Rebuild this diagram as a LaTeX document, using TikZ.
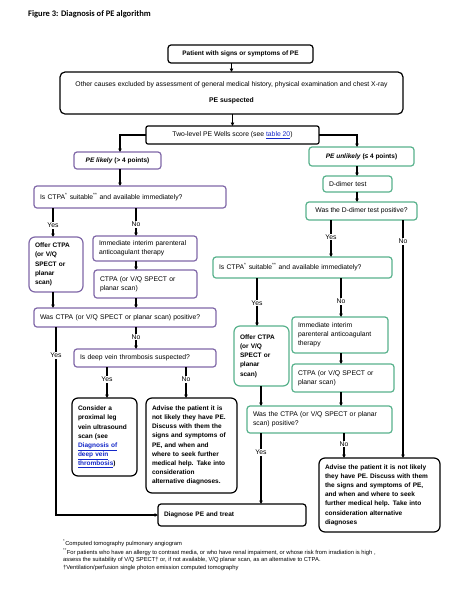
\documentclass[tikz,border=0pt]{standalone}
\usepackage{fontspec}
\setmainfont{Liberation Sans}
\newfontfamily\titlefont{Carlito}
\usetikzlibrary{arrows.meta}
\definecolor{purp}{RGB}{128,104,168}
\definecolor{gren}{RGB}{88,178,140}
\definecolor{lnkc}{RGB}{20,40,200}
\newcommand{\lnk}[1]{\textcolor{lnkc}{\underline{#1}}}
\newcommand{\fr}{\fontsize{6.8}{9.2}\selectfont}
\newcommand{\fb}{\fontsize{6.5}{9.2}\selectfont\bfseries}
\newcommand{\bx}[7]{%
  \pgfmathsetmacro{\bw}{#5-#3}%
  \pgfmathsetmacro{\bh}{#6-#4}%
  \pgfmathsetmacro{\tw}{#5-#3-12}%
  \node[box,#2,anchor=north west,minimum width=\bw pt,minimum height=\bh pt] (#1) at (#3,#4) {#7};}
\begin{document}
\begin{tikzpicture}[x=1pt,y=-1pt,
  box/.style={draw, line width=1.2pt, rounded corners=3pt, inner ysep=1pt, inner xsep=4pt, outer sep=0pt, font=\fr},
  blk/.style={draw=black},
  pur/.style={draw=purp},
  grn/.style={draw=gren},
  rr/.style={rounded corners=6pt},
  lft/.style={align=left, text width=\tw pt, inner xsep=6pt},
  ctr/.style={align=center},
  bld/.style={font=\fb},
  arr/.style={line width=1.1pt, -{Triangle[length=3.5pt,width=3.4pt]}},
  lbl/.style={fill=white, inner sep=1pt, font=\fr},
  fn/.style={anchor=west, inner sep=0pt, font=\fontsize{5.8}{7}\selectfont}]
\fill[white] (0,0) rectangle (474,595);
\useasboundingbox (0,0) rectangle (474,595);
\node[anchor=west, inner sep=0pt, font=\titlefont\fontsize{8.5}{10}\selectfont\bfseries] (title) at (28,14) {Figure 3: Diagnosis of PE algorithm};
% boxes
\bx{p1}{blk,ctr,bld}{168}{45}{313}{63}{Patient with signs or symptoms of PE}
\bx{p2}{blk,ctr,rounded corners=5pt}{60}{72}{403}{114}{Other causes excluded by assessment of general medical history, physical examination and chest X-ray\\[6.8pt]\textbf{PE suspected}}
\bx{wells}{blk,ctr,rounded corners=2pt}{146}{126}{319}{144}{Two-level PE Wells score (see \lnk{table 20})}
\bx{lik}{pur,ctr,bld}{74}{152}{161}{169}{\textit{PE likely} (> 4 points)}
\bx{unl}{grn,ctr,bld}{309}{147}{414}{166}{\textit{PE unlikely} (≤ 4 points)}
\bx{ddim}{grn,lft}{323}{176}{392}{192}{D-dimer test}
\bx{wdd}{grn,ctr}{306}{202}{417}{220}{Was the D-dimer test positive?}
\bx{ctL}{pur,lft}{34}{186}{226}{208}{Is CTPA\textsuperscript{*} suitable\textsuperscript{**} and available immediately?}
\bx{offL}{pur,lft,bld,rr}{29}{237}{83}{292}{Offer CTPA\\(or V/Q\\SPECT or\\planar\\scan)}
\bx{immL}{pur,lft}{93}{236}{197}{261}{Immediate interim parenteral\\anticoagulant therapy}
\bx{ctpaL}{pur,lft}{94}{270}{197}{298}{CTPA (or V/Q SPECT or\\planar scan)}
\bx{wasL}{pur,lft}{34}{308}{216}{327}{Was CTPA (or V/Q SPECT or planar scan) positive?}
\bx{dvt}{pur,lft}{74}{349}{216}{367}{Is deep vein thrombosis suspected?}
\bx{cons}{blk,lft,bld,rr}{72}{398}{137}{476}{Consider a\\proximal leg\\vein ultrasound\\scan (see\\\lnk{Diagnosis of}\\\lnk{deep vein}\\\lnk{thrombosis})}
\bx{advL}{blk,lft,bld,rr}{146}{398}{237}{493}{Advise the patient it is\\not likely they have PE.\\Discuss with them the\\signs and symptoms of\\PE, and when and\\where to seek further\\medical help. Take into\\consideration\\alternative diagnoses.}
\bx{diag}{blk,lft,bld}{158}{504}{306}{526}{Diagnose PE and treat}
\bx{ctR}{grn,lft}{213}{257}{392}{278}{Is CTPA\textsuperscript{*} suitable\textsuperscript{**} and available immediately?}
\bx{offR}{grn,lft,bld,rr}{234}{326}{289}{386}{Offer CTPA\\(or V/Q\\SPECT or\\planar\\scan)}
\bx{immR}{grn,lft}{292}{317}{388}{353}{Immediate interim\\parenteral anticoagulant\\therapy}
\bx{ctpaR}{grn,lft}{292}{364}{394}{392}{CTPA (or V/Q SPECT or\\planar scan)}
\bx{wasR}{grn,lft}{247}{406}{392}{433}{Was the CTPA (or V/Q SPECT or planar\\scan) positive?}
\bx{advR}{blk,lft,bld,rr}{319}{458}{440}{532}{Advise the patient it is not likely\\they have PE. Discuss with them\\the signs and symptoms of PE,\\and when and where to seek\\further medical help. Take into\\consideration alternative\\diagnoses}
% column coordinates
\coordinate (c53) at (53,0);
\coordinate (c56) at (56,0);
\coordinate (c107) at (107,0);
\coordinate (c120) at (120,0);
\coordinate (c136) at (136,0);
\coordinate (c186) at (186,0);
\coordinate (c257) at (257,0);
\coordinate (c261) at (261,0);
\coordinate (c331) at (331,0);
\coordinate (c341) at (341,0);
\coordinate (c344) at (344,0);
\coordinate (c357) at (357,0);
\coordinate (c403) at (403,0);
% connectors
\draw[arr] (p2.north |- p1.south) -- (p2.north);
\draw[arr] (wells.north |- p2.south) -- (wells.north);
\draw[arr] (wells.west) -| (lik.north -| c120);
\draw[arr] (lik.south -| c120) -- (ctL.north -| c120);
\draw[arr] (wells.east) -| (unl.north -| c357);
\draw[arr] (unl.south -| c357) -- (ddim.north -| c357);
\draw[arr] (ddim.south -| c357) -- (wdd.north -| c357);
\draw[arr] (ctL.south -| c53) -- node[lbl,pos=0.6]{Yes} (offL.north -| c53);
\draw[arr] (ctL.south -| c136) -- node[lbl,pos=0.58]{No} (immL.north -| c136);
\draw[arr] (immL.south -| c136) -- (ctpaL.north -| c136);
\draw[arr] (ctpaL.south -| c136) -- (wasL.north -| c136);
\draw[arr] (offL.south -| c53) -- (wasL.north -| c53);
\draw[arr] (wasL.south -| c136) -- node[lbl,pos=0.45]{No} (dvt.north -| c136);
\draw[arr] (wasL.south -| c56) -- node[lbl,pos=0.15]{Yes} (diag.west -| c56) -- (diag.west);
\draw[arr] (dvt.south -| c107) -- node[lbl,pos=0.4]{Yes} (cons.north -| c107);
\draw[arr] (dvt.south -| c186) -- node[lbl,pos=0.4]{No} (advL.north -| c186);
\draw[arr] (wdd.south -| c331) -- node[lbl,pos=0.46]{Yes} (ctR.north -| c331);
\draw[arr] (wdd.south -| c403) -- node[lbl,pos=0.09]{No} (advR.north -| c403);
\draw[arr] (ctR.south -| c257) -- node[lbl,pos=0.52]{Yes} (offR.north -| c257);
\draw[arr] (ctR.south -| c341) -- node[lbl,pos=0.6]{No} (immR.north -| c341);
\draw[arr] (immR.south -| c341) -- (ctpaR.north -| c341);
\draw[arr] (ctpaR.south -| c341) -- (wasR.north -| c341);
\draw[arr] (offR.south -| c261) -- (wasR.north -| c261);
\draw[arr] (wasR.south -| c261) -- node[lbl,pos=0.27]{Yes} (diag.north -| c261);
\draw[arr] (wasR.south -| c344) -- node[lbl,pos=0.44]{No} (advR.north -| c344);
% footnotes
\node[fn] (f1) at (63,543) {\textsuperscript{*}Computed tomography pulmonary angiogram};
\node[fn] (f2) at (63,552) {\textsuperscript{**}For patients who have an allergy to contrast media, or who have renal impairment, or whose risk from irradiation is high ,};
\node[fn] (f3) at (63,560) {assess the suitability of V/Q SPECT† or, if not available, V/Q planar scan, as an alternative to CTPA.};
\node[fn] (f4) at (63,568) {†Ventilation/perfusion single photon emission computed tomography};
\end{tikzpicture}
\end{document}
